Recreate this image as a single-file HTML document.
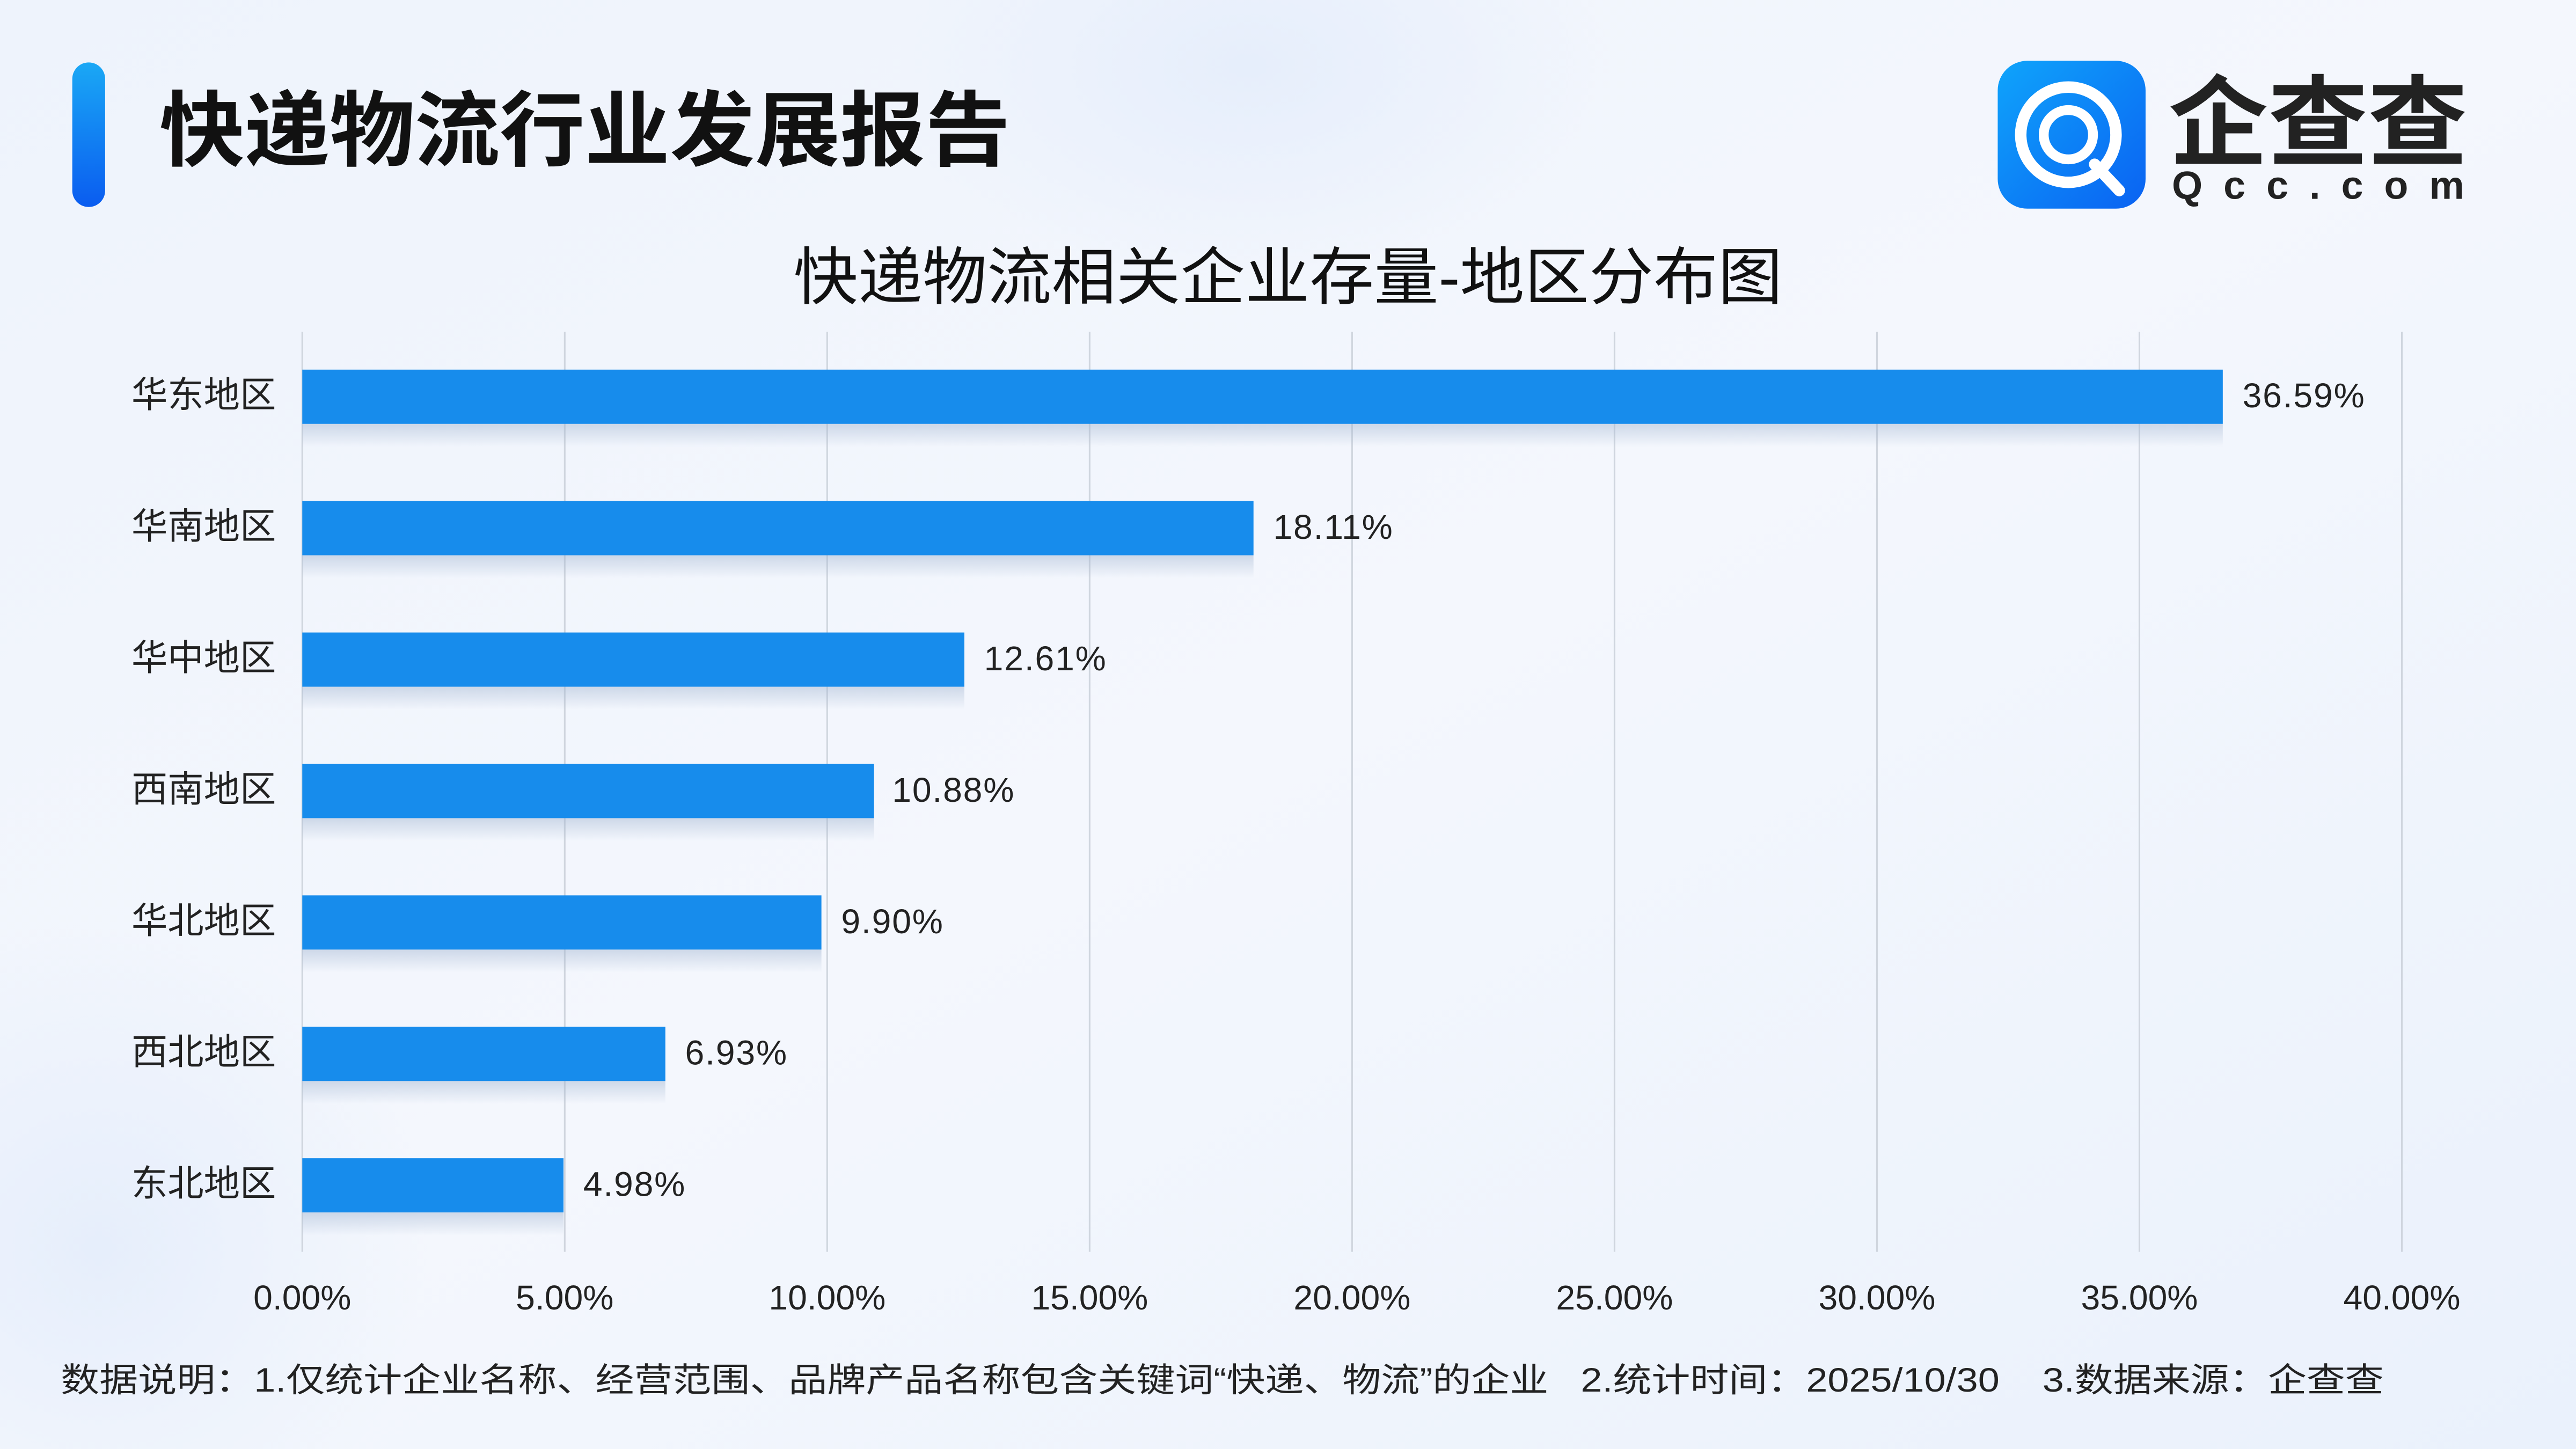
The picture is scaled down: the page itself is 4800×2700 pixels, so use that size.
<!DOCTYPE html>
<html><head><meta charset="utf-8">
<style>
html,body{margin:0;padding:0;width:4800px;height:2700px;overflow:hidden;background:#eef3fb;}
svg{display:block;overflow:hidden;}
text{font-family:"Liberation Sans","Noto Sans CJK SC",sans-serif;}
</style></head>
<body>
<svg width="4800" height="2700" viewBox="0 0 1568 882" xmlns="http://www.w3.org/2000/svg">
<defs>
<linearGradient id="bg" x1="0" y1="0" x2="1" y2="1">
<stop offset="0" stop-color="#eef3fc"/><stop offset="0.5" stop-color="#f4f7fd"/><stop offset="1" stop-color="#eaf1fc"/>
</linearGradient>
<radialGradient id="glow" cx="0.5" cy="0.5" r="0.5">
<stop offset="0" stop-color="#e6eefb"/><stop offset="1" stop-color="#e6eefb" stop-opacity="0"/>
</radialGradient>
<linearGradient id="acc" x1="0" y1="0" x2="0" y2="1">
<stop offset="0" stop-color="#1aa8f5"/><stop offset="1" stop-color="#0a5cf0"/>
</linearGradient>
<linearGradient id="logo" x1="0" y1="0" x2="1" y2="1">
<stop offset="0" stop-color="#0fa4fb"/><stop offset="1" stop-color="#0a62f2"/>
</linearGradient>
<linearGradient id="sh" x1="0" y1="0" x2="0" y2="1">
<stop offset="0" stop-color="#9fb3cf" stop-opacity="0.45"/><stop offset="1" stop-color="#9fb3cf" stop-opacity="0"/>
</linearGradient>
</defs>
<rect width="1568" height="882" fill="url(#bg)"/>
<ellipse cx="760" cy="40" rx="220" ry="130" fill="url(#glow)"/>
<ellipse cx="60" cy="760" rx="200" ry="200" fill="url(#glow)"/>

<rect x="44" y="38" width="20" height="88" rx="10" fill="url(#acc)"/>
<text x="97" y="97" font-size="50" font-weight="bold" fill="#111" textLength="518" lengthAdjust="spacingAndGlyphs">快递物流行业发展报告</text>

<rect x="1216" y="37" width="90" height="90" rx="18" fill="url(#logo)"/>
<circle cx="1259" cy="82" r="29" fill="none" stroke="#fff" stroke-width="7"/>
<circle cx="1259" cy="82" r="15" fill="none" stroke="#fff" stroke-width="6"/>
<path d="M1275 100 L1290 116" stroke="#fff" stroke-width="7" stroke-linecap="round"/>
<text x="1320" y="96" font-size="60" font-weight="bold" fill="#222" textLength="182" lengthAdjust="spacingAndGlyphs">企查查</text>
<text x="1322" y="121" font-size="24" font-weight="bold" fill="#222" textLength="178" lengthAdjust="spacing">Qcc.com</text>

<text x="483" y="182" font-size="38" fill="#111" textLength="602" lengthAdjust="spacingAndGlyphs">快递物流相关企业存量-地区分布图</text>

<g stroke="#cfd5de" stroke-width="1">
<line x1="184" y1="202" x2="184" y2="762"/><line x1="343.75" y1="202" x2="343.75" y2="762"/>
<line x1="503.5" y1="202" x2="503.5" y2="762"/><line x1="663.25" y1="202" x2="663.25" y2="762"/>
<line x1="823" y1="202" x2="823" y2="762"/><line x1="982.75" y1="202" x2="982.75" y2="762"/>
<line x1="1142.5" y1="202" x2="1142.5" y2="762"/><line x1="1302.25" y1="202" x2="1302.25" y2="762"/>
<line x1="1462" y1="202" x2="1462" y2="762"/>
</g>

<g font-size="22" fill="#222" text-anchor="end">
<text x="168" y="248">华东地区</text><text x="168" y="328">华南地区</text><text x="168" y="408">华中地区</text>
<text x="168" y="488">西南地区</text><text x="168" y="568">华北地区</text><text x="168" y="648">西北地区</text>
<text x="168" y="728">东北地区</text>
</g>

<g fill="url(#sh)">
<rect x="184" y="258" width="1169" height="14"/><rect x="184" y="338" width="579" height="14"/>
<rect x="184" y="418" width="403" height="14"/><rect x="184" y="498" width="348" height="14"/>
<rect x="184" y="578" width="316" height="14"/><rect x="184" y="658" width="221" height="14"/>
<rect x="184" y="738" width="159" height="14"/>
</g>
<g fill="#178cec">
<rect x="184" y="225" width="1169" height="33"/><rect x="184" y="305" width="579" height="33"/>
<rect x="184" y="385" width="403" height="33"/><rect x="184" y="465" width="348" height="33"/>
<rect x="184" y="545" width="316" height="33"/><rect x="184" y="625" width="221" height="33"/>
<rect x="184" y="705" width="159" height="33"/>
</g>
<g font-size="21" fill="#222" letter-spacing="0.6">
<text x="1365" y="248">36.59%</text><text x="775" y="328">18.11%</text><text x="599" y="408">12.61%</text>
<text x="543" y="488">10.88%</text><text x="512" y="568">9.90%</text><text x="417" y="648">6.93%</text>
<text x="355" y="728">4.98%</text>
</g>

<g font-size="21" fill="#222" text-anchor="middle">
<text x="184" y="797">0.00%</text><text x="343.75" y="797">5.00%</text><text x="503.5" y="797">10.00%</text>
<text x="663.25" y="797">15.00%</text><text x="823" y="797">20.00%</text><text x="982.75" y="797">25.00%</text>
<text x="1142.5" y="797">30.00%</text><text x="1302.25" y="797">35.00%</text><text x="1462" y="797">40.00%</text>
</g>

<text x="37" y="847" font-size="20.5" fill="#222" textLength="1414" lengthAdjust="spacingAndGlyphs">数据说明：1.仅统计企业名称、经营范围、品牌产品名称包含关键词“快递、物流”的企业&#160;&#160;&#160;2.统计时间：2025/10/30&#160;&#160;&#160;&#160;3.数据来源：企查查</text>
</svg>
</body></html>
